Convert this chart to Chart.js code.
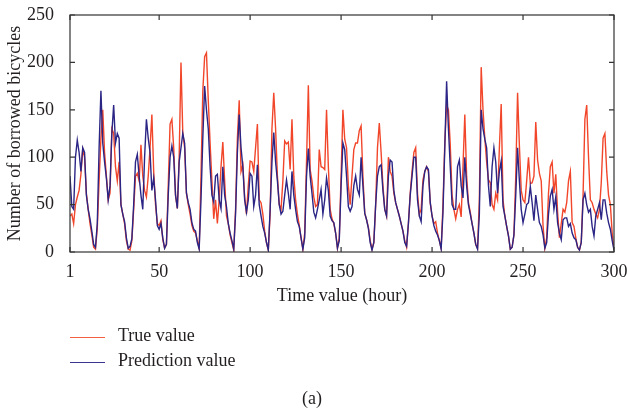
<!DOCTYPE html>
<html>
<head>
<meta charset="utf-8">
<script src="https://cdn.jsdelivr.net/npm/chart.js@4.4.1/dist/chart.umd.min.js"></script>
<style>
  html, body { margin: 0; padding: 0; background: #fff; }
  #wrap { position: relative; width: 627px; height: 412px; }
  #chart { position: absolute; left: 0; top: 0; }
  .txt { position: absolute; font-family: "Liberation Serif", serif; font-size: 18px; color: #231f20; white-space: nowrap; }
  .swatch { position: absolute; height: 0; width: 35px; border-top: 1.5px solid; }
</style>
</head>
<body>
<div id="wrap">
  <canvas id="chart" width="627" height="412"></canvas>
  <div class="swatch" style="left:70px; top:337px; border-color:#f2603f;"></div>
  <div class="txt" style="left:118px; top:325px;">True value</div>
  <div class="swatch" style="left:70px; top:362px; border-color:#3a358f;"></div>
  <div class="txt" style="left:118px; top:350px;">Prediction value</div>
  <div class="txt" style="left:302px; top:388px;">(a)</div>
</div>
<script>
// hours on the x axis
const hours = Array.from({ length: 300 }, (_, i) => i + 1);
const xTicks = [1, 50, 100, 150, 200, 250, 300];
const yTicks = [0, 50, 100, 150, 200, 250];

// true number of borrowed bicycles
const trueValues = [
  38, 40, 30, 50, 58, 65, 82, 108, 100, 62,
  45, 30, 18, 5, 3, 25, 75, 120, 150, 105,
  80, 55, 62, 130, 125, 90, 75, 95, 50, 40,
  30, 12, 3, 2, 12, 45, 80, 83, 75, 113,
  80, 65, 58, 80, 110, 145, 85, 50, 30, 28,
  33, 13, 4, 8, 70, 135, 140, 110, 60, 46,
  100, 200, 125, 110, 62, 50, 40, 28, 22, 20,
  12, 4, 80, 170, 206, 210, 160, 115, 75, 35,
  55, 30, 55, 90, 116, 75, 38, 30, 18, 10,
  2, 45, 120, 160, 85, 92, 58, 40, 70, 96,
  95, 85, 110, 135, 55, 52, 40, 22, 10, 2,
  40, 130, 168, 130, 80, 50, 45, 75, 117, 114,
  116, 87, 140, 80, 55, 40, 28, 15, 3, 20,
  95, 176, 87, 75, 58, 48, 50, 108, 90, 89,
  87, 150, 90, 45, 35, 30, 20, 4, 15, 80,
  150, 119, 110, 70, 50, 80, 108, 115, 115, 128,
  133, 80, 41, 34, 26, 12, 3, 10, 50, 110,
  136, 105, 70, 45, 38, 100, 85, 80, 62, 52,
  45, 38, 30, 22, 12, 5, 30, 62, 85, 105,
  110, 62, 40, 45, 76, 85, 90, 85, 52, 38,
  30, 32, 20, 12, 4, 50, 115, 155, 150, 113,
  60, 45, 35, 45, 50, 37, 90, 145, 80, 52,
  42, 30, 20, 8, 4, 55, 195, 150, 120, 95,
  76, 73, 50, 45, 62, 55, 110, 156, 55, 38,
  27, 17, 3, 5, 18, 80, 168, 112, 65, 55,
  52, 75, 100, 72, 73, 80, 137, 97, 83, 75,
  28, 4, 15, 62, 90, 95, 62, 82, 42, 15,
  30, 45, 42, 52, 75, 85, 31, 27, 15, 5,
  2, 10, 60, 140, 155, 100, 55, 52, 45, 40,
  36, 45, 73, 120, 125, 85, 60, 50, 20, 3
];

// predicted values
const predValues = [
  80, 48, 45, 100, 118, 105, 85, 110, 105, 60,
  45, 35, 22, 8, 5, 30, 110, 170, 115, 95,
  78, 55, 70, 125, 155, 115, 125, 120, 50, 40,
  32, 15, 4, 6, 14, 50, 95, 103, 80, 60,
  45, 100, 140, 120, 105, 65, 78, 55, 28, 24,
  30, 15, 4, 8, 60, 100, 112, 100, 60, 46,
  95, 110, 125, 115, 62, 52, 45, 31, 24, 22,
  10, 3, 55, 120, 175, 150, 130, 90, 60, 53,
  80, 82, 55, 46, 90, 60, 48, 30, 20, 12,
  3, 40, 105, 145, 110, 90, 55, 42, 55, 83,
  80, 48, 60, 92, 50, 38, 27, 20, 10, 2,
  45, 95, 126, 95, 75, 50, 40, 43, 60, 76,
  62, 45, 85, 60, 45, 32, 27, 15, 3, 15,
  80, 109, 80, 62, 42, 36, 45, 55, 66, 40,
  55, 78, 65, 38, 33, 31, 20, 4, 12, 70,
  115, 108, 80, 48, 43, 48, 70, 80, 66, 60,
  100, 70, 41, 34, 25, 10, 2, 10, 50, 80,
  90, 92, 65, 45, 38, 80, 97, 95, 65, 52,
  45, 38, 30, 22, 10, 6, 30, 60, 80, 100,
  100, 55, 38, 32, 70, 85, 90, 87, 52, 38,
  28, 22, 18, 12, 3, 42, 110, 180, 130, 90,
  50, 45, 45, 90, 97, 70, 57, 100, 70, 50,
  40, 30, 20, 8, 3, 40, 150, 130, 119, 110,
  70, 48, 90, 110, 95, 62, 85, 96, 48, 38,
  27, 17, 3, 5, 18, 60, 110, 75, 45, 31,
  40, 50, 52, 69, 52, 33, 60, 45, 31, 27,
  18, 4, 10, 40, 59, 66, 45, 58, 31, 20,
  13, 34, 36, 36, 27, 30, 20, 15, 13, 5,
  2, 10, 55, 62, 50, 42, 45, 27, 17, 38,
  45, 52, 34, 55, 55, 41, 31, 24, 12, 2
];

const serif = "'Liberation Serif', serif";
const textColor = "#231f20";

// box around the plot with tick marks pointing inwards
const framePlugin = {
  id: "frame",
  afterDraw(chart) {
    const { ctx, chartArea: a, scales: { x, y } } = chart;
    ctx.save();
    ctx.strokeStyle = "#333";
    ctx.lineWidth = 1.2;
    ctx.strokeRect(a.left, a.top, a.right - a.left, a.bottom - a.top);
    ctx.beginPath();
    xTicks.forEach((v) => {
      const px = x.getPixelForValue(v);
      ctx.moveTo(px, a.bottom); ctx.lineTo(px, a.bottom - 5);
      ctx.moveTo(px, a.top); ctx.lineTo(px, a.top + 5);
    });
    yTicks.forEach((v) => {
      const py = y.getPixelForValue(v);
      ctx.moveTo(a.left, py); ctx.lineTo(a.left + 5, py);
      ctx.moveTo(a.right, py); ctx.lineTo(a.right - 5, py);
    });
    ctx.stroke();
    ctx.restore();
  },
};

new Chart(document.getElementById("chart"), {
  type: "line",
  data: {
    datasets: [
      {
        label: "True value",
        data: hours.map((h, i) => ({ x: h, y: trueValues[i] })),
        borderColor: "#f2462b",
        borderWidth: 1.4,
        pointRadius: 0,
        tension: 0,
        order: 1,
      },
      {
        label: "Prediction value",
        data: hours.map((h, i) => ({ x: h, y: predValues[i] })),
        borderColor: "#2b2585",
        borderWidth: 1.4,
        pointRadius: 0,
        tension: 0,
        order: 0,
      },
    ],
  },
  options: {
    responsive: false,
    animation: false,
    layout: { padding: { top: 15, right: 13, bottom: 102, left: 0 } },
    plugins: { legend: { display: false }, tooltip: { enabled: false } },
    scales: {
      x: {
        type: "linear",
        min: 1,
        max: 300,
        afterBuildTicks: (s) => { s.ticks = xTicks.map((v) => ({ value: v })); },
        afterFit: (s) => { s.height = 58; s.paddingLeft = 0; s.paddingRight = 0; },
        grid: { display: false },
        border: { display: false },
        ticks: { font: { family: serif, size: 18 }, color: textColor, padding: 1, maxRotation: 0, autoSkip: false },
        title: { display: true, text: "Time value (hour)", font: { family: serif, size: 18 }, color: textColor, padding: { top: 0, bottom: 3 } },
      },
      y: {
        min: 0,
        max: 250,
        afterBuildTicks: (s) => { s.ticks = yTicks.map((v) => ({ value: v })); },
        afterFit: (s) => { s.width = 70; s.paddingTop = 0; s.paddingBottom = 0; },
        grid: { display: false },
        border: { display: false },
        ticks: { font: { family: serif, size: 18 }, color: textColor, padding: 8 },
        title: { display: true, text: "Number of borrowed bicycles", font: { family: serif, size: 18 }, color: textColor, padding: { top: 4, bottom: 0 } },
      },
    },
  },
  plugins: [framePlugin],
});
</script>
</body>
</html>
